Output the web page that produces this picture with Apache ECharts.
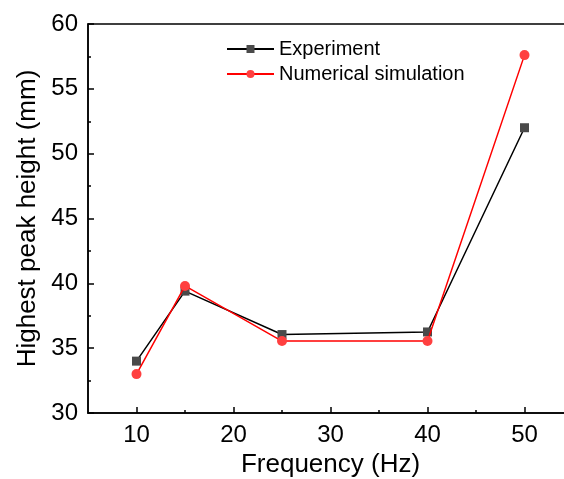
<!DOCTYPE html>
<html><head><meta charset="utf-8">
<script src="https://cdn.jsdelivr.net/npm/echarts@6/dist/echarts.min.js"></script>
<style>html,body{margin:0;padding:0;background:#fff;overflow:hidden}#c{width:564px;height:479px}</style>
</head><body><div id="c"></div>
<script>
const frequency = [10, 15, 25, 40, 50];
const experiment = [34.0, 39.4, 36.05, 36.25, 52.0];
const simulation = [33.0, 39.8, 35.55, 35.55, 57.6];
const xMajorTicks = [10, 20, 30, 40, 50];
const xMinorTicks = [15, 25, 35, 45];

const font = 'Liberation Sans, Arial, sans-serif';
const chart = echarts.init(document.getElementById('c'), null, {renderer: 'canvas'});
chart.setOption({
  backgroundColor: '#fff',
  animation: false,
  grid: {left: 88, top: 24, width: 485, height: 389, outerBoundsMode: 'none', containLabel: false, show: true, borderColor: '#000', borderWidth: 1.5, backgroundColor: 'transparent'},
  legend: {
    orient: 'vertical', left: 221, top: 34, itemWidth: 47, itemHeight: 10, itemGap: 5,
    textStyle: {fontFamily: font, fontSize: 20, color: '#000'},
    data: ['Experiment', 'Numerical simulation']
  },
  xAxis: [{
    type: 'value', min: 5, max: 55, interval: 5,
    name: 'Frequency (Hz)', nameLocation: 'middle', nameGap: 38,
    nameTextStyle: {fontFamily: font, fontSize: 26, color: '#000'},
    axisLine: {show: true, lineStyle: {color: '#000', width: 1.5}},
    axisTick: {show: true, inside: true, length: 6, lineStyle: {color: '#000', width: 1.5}, customValues: xMajorTicks},
    axisLabel: {fontFamily: font, fontSize: 24, color: '#000', margin: 10, customValues: xMajorTicks},
    splitLine: {show: false}
  }, {
    type: 'value', min: 5, max: 55, interval: 5, position: 'bottom', gridIndex: 0,
    axisLine: {show: false},
    axisTick: {show: true, inside: true, length: 3, lineStyle: {color: '#000', width: 1.5}, customValues: xMinorTicks},
    axisLabel: {show: false},
    splitLine: {show: false}
  }],
  yAxis: {
    type: 'value', min: 30, max: 60, interval: 5,
    name: 'Highest peak height (mm)', nameLocation: 'middle', nameGap: 46,
    nameTextStyle: {fontFamily: font, fontSize: 26, color: '#000'},
    axisLine: {show: true, lineStyle: {color: '#000', width: 1.5}},
    axisTick: {show: true, inside: true, length: 6, lineStyle: {color: '#000', width: 1.5}},
    minorTick: {show: true, splitNumber: 2, length: 3, lineStyle: {color: '#000', width: 1.5}},
    axisLabel: {fontFamily: font, fontSize: 24, color: '#000', margin: 10},
    splitLine: {show: false}
  },
  series: [{
    name: 'Experiment', type: 'line', xAxisIndex: 0,
    data: frequency.map((f, i) => [f, experiment[i]]),
    symbol: 'rect', symbolSize: 9,
    lineStyle: {color: '#000', width: 1.5},
    itemStyle: {color: '#4a4a4a'},
    z: 2
  }, {
    name: 'Numerical simulation', type: 'line', xAxisIndex: 0,
    data: frequency.map((f, i) => [f, simulation[i]]),
    symbol: 'circle', symbolSize: 10,
    lineStyle: {color: '#ff0000', width: 1.5},
    itemStyle: {color: '#ff4040'},
    z: 3
  }]
});
</script></body></html>
